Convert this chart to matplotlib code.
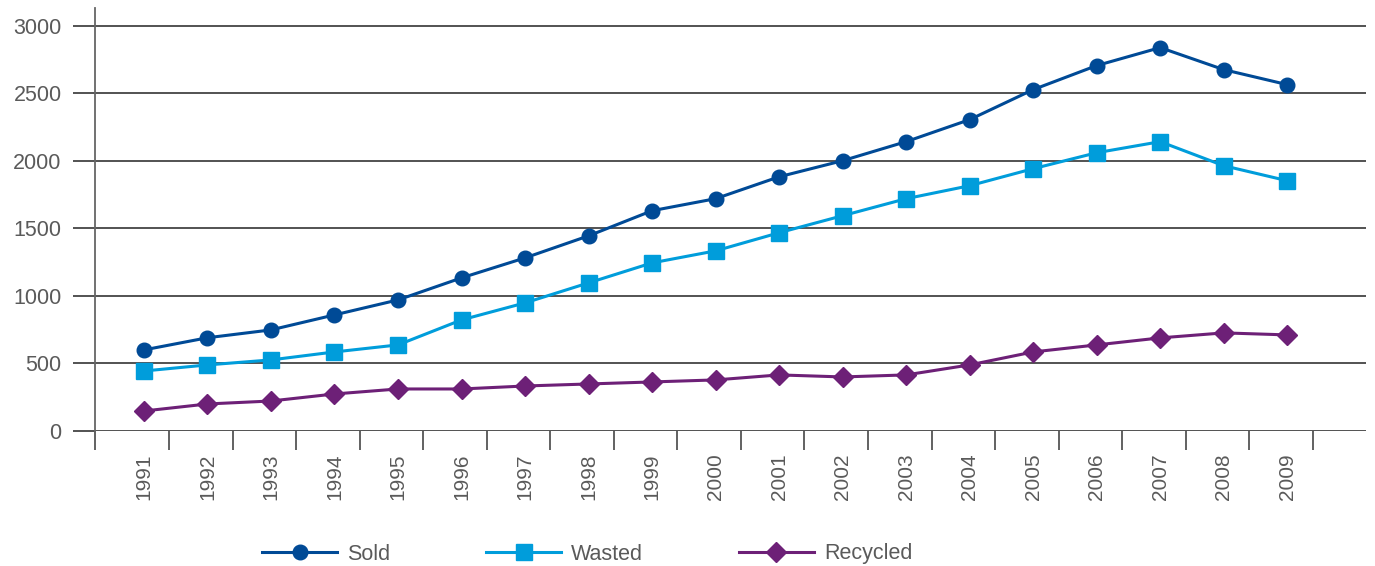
import matplotlib
matplotlib.use("Agg")
import matplotlib.pyplot as plt
import numpy as np

years = list(range(1991, 2010))
year_labels = [str(y) for y in years]
sold = [600, 690, 748, 859, 970, 1133, 1281, 1444, 1630, 1719, 1881, 2000, 2141, 2304, 2526, 2704, 2837, 2674, 2563]
wasted = [444, 489, 526, 585, 637, 822, 948, 1096, 1244, 1333, 1467, 1593, 1719, 1815, 1941, 2059, 2141, 1963, 1852]
recycled = [148, 200, 222, 274, 311, 311, 333, 348, 363, 378, 415, 400, 415, 489, 585, 637, 689, 726, 711]
yticks = [0, 500, 1000, 1500, 2000, 2500, 3000]

plt.rcParams['font.family'] = ['Liberation Sans', 'DejaVu Sans']

fig = plt.figure(figsize=(13.75, 5.66), dpi=100)
ax = fig.add_axes([95/1375, 135/566, (1366-95)/1375, (431-8)/566])

x = np.arange(len(years))
ax.plot(x, sold, color='#004a96', lw=2.2, marker='o', ms=10.5, label='Sold')
ax.plot(x, wasted, color='#009ddb', lw=2.2, marker='s', ms=11, label='Wasted')
ax.plot(x, recycled, color='#6d2077', lw=2.2, marker='D', ms=10.5, label='Recycled')

ax.set_xlim(-0.77, len(years) - 1 + 1.24)
ax.set_ylim(0, 3130)

for s in ['top', 'right', 'bottom']:
    ax.spines[s].set_visible(False)
ax.spines['left'].set_color('#666666')
ax.spines['left'].set_linewidth(1.3)

ax.set_yticks(yticks)
ax.set_yticklabels([str(v) for v in yticks])
ax.tick_params(axis='y', length=16, width=1.3, color='#444444', pad=8,
               labelsize=15.5, labelcolor='#5a5a5a')
for v in yticks:
    ax.axhline(v, color='#444444', lw=1.3, zorder=0)

ax.set_xticks(x)
ax.set_xticklabels(year_labels, rotation=90)
ax.tick_params(axis='x', which='major', length=0, pad=16, labelsize=15, labelcolor='#5a5a5a')
ax.set_xticks(np.concatenate([[-0.77], x + 0.4]), minor=True)
ax.tick_params(axis='x', which='minor', length=14, width=1.3, color='#555555')

leg = fig.legend(loc='center left', bbox_to_anchor=(262/1375, 1 - 554/566), ncol=3,
                 frameon=False, fontsize=15.5, handlelength=3.5, handletextpad=0.45,
                 columnspacing=4.45, borderpad=0, borderaxespad=0)
for t in leg.get_texts():
    t.set_color('#5a5a5a')

fig.savefig('out.png', dpi=100)
